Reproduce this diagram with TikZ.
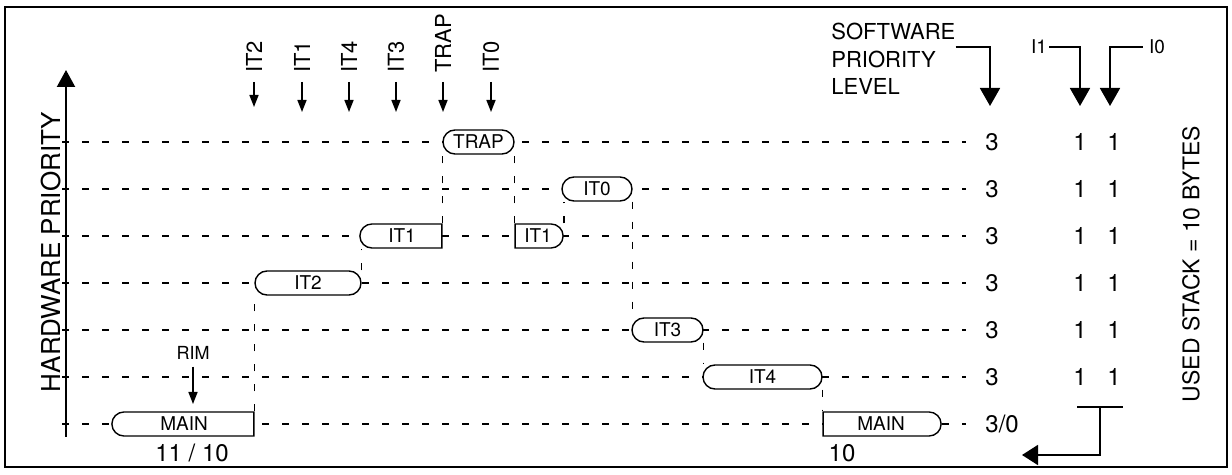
\documentclass[tikz,border=0pt]{standalone}
\usepackage{fontspec}
\setmainfont{TeX Gyre Heros}
\usetikzlibrary{arrows.meta,shapes.misc}

\begin{document}
\begin{tikzpicture}[x=0.5pt,y=-0.5pt,
    job/.style={rounded rectangle, draw, fill=white, line width=0.7pt,
        minimum height=12pt, inner sep=0pt, font=\fontsize{9.5}{11}\selectfont},
    flat left/.style={rounded rectangle left arc=none},
    flat right/.style={rounded rectangle right arc=none},
    hline/.style={line width=0.75pt, dash pattern=on 3.5pt off 6.5pt},
    evarrow/.style={-{Triangle[length=6pt,width=4.5pt]}, line width=0.75pt},
    fatarrow/.style={-{Triangle[length=9pt,width=10pt]}, line width=0.9pt},
    vlabel/.style={rotate=90, anchor=west, inner sep=0pt, outer sep=4.5pt,
        font=\fontsize{11}{13}\selectfont},
    prio/.style={inner sep=0pt, font=\fontsize{12}{14}\selectfont}]
    \useasboundingbox (0,0) rectangle (1232,475);
    \draw[line width=1.2pt] (5,7) rectangle (1227,467);

    % Axis
    \draw[line width=1.1pt, -{Triangle[length=8.5pt,width=9pt]}] (66,437) -- (66,70);
    \node[rotate=90, font=\fontsize{13}{15}\selectfont] (hwp) at (51,252) {HARDWARE PRIORITY};

    % Priority levels
    \foreach \y in {142,189,...,424}
        \draw[hline] (62,\y) -- (966,\y);

    % Tasks
    \node[job, flat right, minimum width=71pt] (main1) at (184,424) {MAIN};
    \node[job, minimum width=53pt] (it2) at (308,283) {IT2};
    \node[job, flat right, minimum width=41pt] (it1a) at (402,236) {IT1};
    \node[job, minimum width=35.5pt] (trap) at (478.5,142) {TRAP};
    \node[job, flat left, minimum width=24pt] (it1b) at (538,236) {IT1};
    \node[job, minimum width=35pt] (it0) at (597,189) {IT0};
    \node[job, minimum width=35.5pt] (it3) at (667.5,330) {IT3};
    \node[job, minimum width=59.5pt] (it4) at (762.5,377) {IT4};
    \node[job, flat left, minimum width=59pt] (main2) at (881,424) {MAIN};

    % Switches
    \draw[hline] (main1.north east) -- (main1.north east |- it2.south);
    \draw[hline] (it2.east |- it2.north) -- (it2.east |- it1a.south);
    \draw[hline] (it1a.north east) -- (it1a.north east |- trap.south);
    \draw[hline] (it1b.north west) -- (it1b.north west |- trap.south);
    \draw[hline] (it1b.east |- it1b.north) -- (it1b.east |- it0.south);
    \draw[hline] (it0.east |- it0.south) -- (it0.east |- it3.north);
    \draw[hline] (it3.east |- it3.south) -- (it3.east |- it4.north);
    \draw[hline] (it4.east |- it4.south) -- (it4.east |- main2.north);

    % Interrupt requests
    \foreach \x/\t/\e in {254/IT2/107,302/IT1/112,349/IT4/112,396/IT3/112,443/TRAP/112,491/IT0/112} {
        \node[vlabel] (l\t) at (\x,82) {\t};
        \coordinate (t\t) at (\x,\e);
        \draw[evarrow] (l\t.west) -- (t\t);
    }
    \node[font=\fontsize{9}{11}\selectfont] (rim) at (193,353) {RIM};
    \coordinate (rimtip) at (193,404);
    \draw[evarrow] (rim) -- (rimtip);
    \node[prio, anchor=base] (cnt1) at (192,462) {11 / 10};
    \node[prio, anchor=base] (cnt2) at (842,462) {10};

    % Software priority and I1, I0
    \node[align=left, anchor=north west, inner sep=0pt,
        font=\fontsize{11}{13.75}\selectfont] (swl) at (831,23) {SOFTWARE\\PRIORITY\\LEVEL};
    \coordinate (swtip) at (990,106);
    \draw[fatarrow] ([yshift=-12pt]swl.north east) -| (swtip);
    \node[inner sep=1pt, font=\fontsize{9.5}{11}\selectfont] (i1) at (1039,47) {I1};
    \coordinate (i1tip) at (1080,106);
    \draw[fatarrow] (i1) -| (i1tip);
    \node[inner sep=3pt, font=\fontsize{9.5}{11}\selectfont] (i0) at (1157,47) {I0};
    \coordinate (i0tip) at (1110,106);
    \draw[fatarrow] (i0) -| (i0tip);

    \foreach \y in {142,189,...,377} {
        \node[prio, anchor=base west] (s\y) at (985,\y+8.5) {3};
        \node[prio, anchor=base] (a\y) at (1080,\y+8.5) {1};
        \node[prio, anchor=base] (b\y) at (1114,\y+8.5) {1};
    }
    \node[prio, anchor=base west] (s424) at (985,432.5) {3/0};

    % Stack
    \coordinate (brl) at (1077,407);
    \coordinate (brr) at (1123,407);
    \coordinate (brm) at (1100,407);
    \coordinate (brtip) at (1022,455);
    \draw[line width=0.9pt] (brl) -- (brr);
    \draw[-{Triangle[length=8pt,width=10pt]}, line width=0.9pt] (brm) |- (brtip);
    \node[rotate=90, font=\fontsize{11.5}{14}\selectfont] (stack) at (1191,264) {USED STACK = 10 BYTES};
\end{tikzpicture}
\end{document}
